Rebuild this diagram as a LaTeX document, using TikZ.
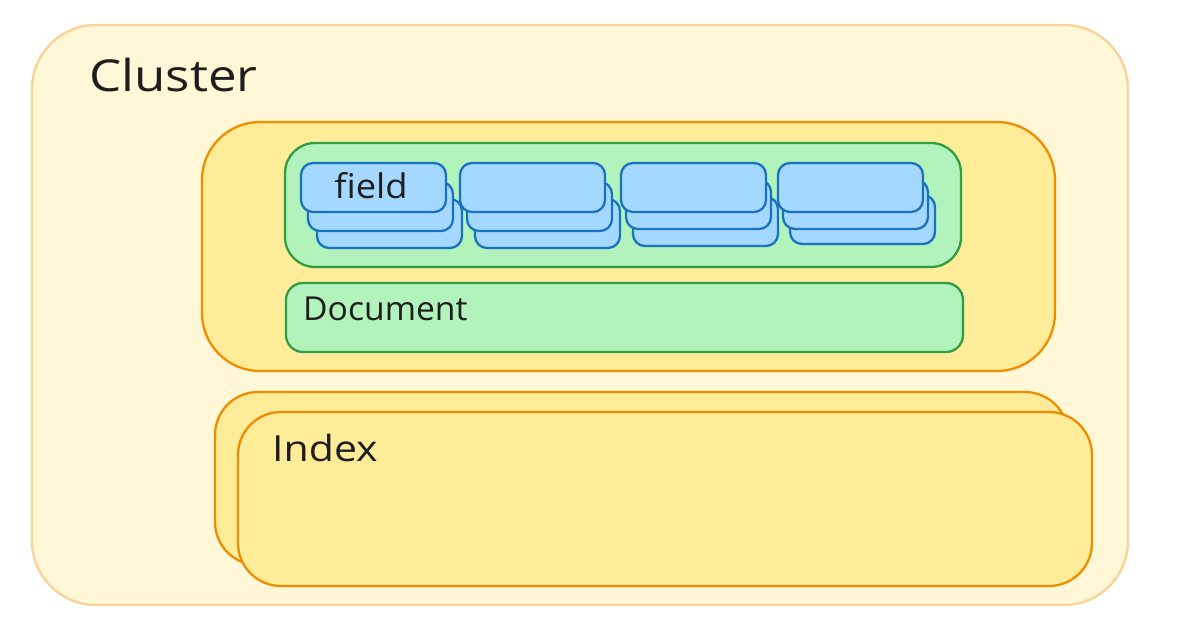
\documentclass[tikz,border=0pt]{standalone}
\usepackage{fontspec}
\setmainfont{Open Sans}
\definecolor{clfill}{HTML}{FFF7D6}
\definecolor{cldraw}{HTML}{F9D199}
\definecolor{orfill}{HTML}{FFEC99}
\definecolor{ordraw}{HTML}{F08C00}
\definecolor{grfill}{HTML}{B2F2BB}
\definecolor{grdraw}{HTML}{2F9E44}
\definecolor{blfill}{HTML}{A5D8FF}
\definecolor{bldraw}{HTML}{1971C2}
\definecolor{ink}{HTML}{1E1E1E}
\tikzset{
  clusterbox/.style={fill=clfill, draw=cldraw, line width=2.3pt, rounded corners=64pt},
  indexbox/.style={fill=orfill, draw=ordraw, line width=2.3pt},
  greenbox/.style={fill=grfill, draw=grdraw, line width=2.3pt},
  card/.style={fill=blfill, draw=bldraw, line width=2.3pt, rounded corners=12pt},
  label/.style={text=ink, inner sep=0pt},
}
\begin{document}
\begin{tikzpicture}[x=1pt, y=-1pt]
\useasboundingbox (0,0) rectangle (1178,636);
% cluster
\path[clusterbox] (32,25) rectangle (1128,605);
\node[label, anchor=base west, font=\fontsize{44}{52}\selectfont\addfontfeature{FakeStretch=1.16}] (cluster) at (89,92) {Cluster};
% document index box
\path[indexbox, rounded corners=58pt] (202,122) rectangle (1055,371);
% fields container
\path[greenbox, rounded corners=30pt] (285,143) rectangle (961,267);
% field stacks
\foreach \dx/\ox/\oy/\px/\py in {0/7/19/16/36, 159/7/19/15/36, 320/5/17/12/34, 477/5/17/12/32} {
  \path[card] (301+\dx+\px,163+\py) rectangle ++(145,49);
  \path[card] (301+\dx+\ox,163+\oy) rectangle ++(145,49);
  \path[card] (301+\dx,163) rectangle ++(145,49);
}
\node[label, anchor=base, font=\fontsize{34}{40}\selectfont\addfontfeature{FakeStretch=1.07}] (field) at (371,199) {field};
% document box
\path[greenbox, rounded corners=17pt] (286,283) rectangle (963,352);
\node[label, anchor=base west, font=\fontsize{33}{40}\selectfont\addfontfeature{FakeStretch=1.02}] (document) at (303,320) {Document};
% index boxes
\path[indexbox, rounded corners=43pt] (215,392) rectangle (1068,565);
\path[indexbox, rounded corners=43pt] (238,412) rectangle (1092,586);
\node[label, anchor=base west, font=\fontsize{36}{42}\selectfont\addfontfeature{FakeStretch=1.14}] (index) at (272,461) {Index};
\end{tikzpicture}
\end{document}
